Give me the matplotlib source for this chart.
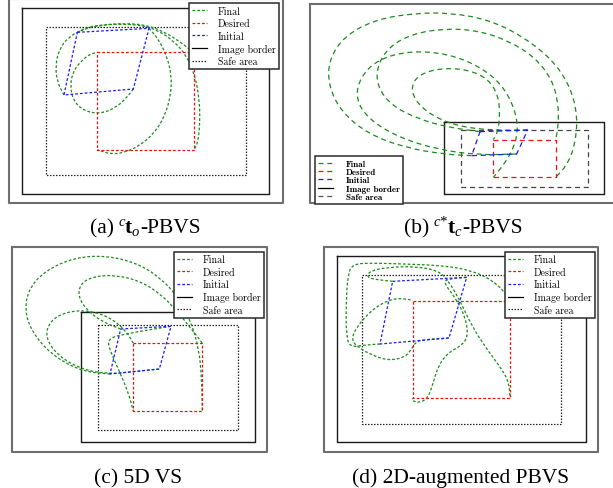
import matplotlib
matplotlib.use('Agg')
import matplotlib.pyplot as plt
from matplotlib.path import Path
from matplotlib.patches import PathPatch
from matplotlib.lines import Line2D
import numpy as np

# ---------------- data (image coordinates of each panel) ----------------
labels = ['Final', 'Desired', 'Initial', 'Image border', 'Safe area']
# caption pieces: (text, role) ; role: n = normal, sup = superscript, b = bold, sub = subscript
captions = [[('(a) ', 'n'), ('c', 'sup'), ('t', 'b'), ('o', 'sub'), ('-PBVS', 'n')],
            [('(b) ', 'n'), ('c*', 'sup'), ('t', 'b'), ('c', 'sub'), ('-PBVS', 'n')],
            [('(c) 5D VS', 'n')],
            [('(d) 2D-augmented PBVS', 'n')]]

# panel (a)
outer_a_x = [27, 848]; outer_a_y = [1, 612]
image_a_x = [65, 808]; image_a_y = [27, 585]
safe_a_x = [138, 737]; safe_a_y = [83, 528]
desired_a_x = [292, 582]; desired_a_y = [160, 452]
initial_a = [(232, 100), (447, 88), (400, 270), (192, 288)]
final_a = [
    [(232, 100), (260, 85), (300, 78), (360, 75), (420, 78), (470, 92), (520, 125), (560, 170),
     (585, 230), (598, 300), (600, 370), (594, 430), (582, 452)],
    [(447, 88), (475, 120), (500, 170), (515, 230), (512, 290), (495, 350), (465, 400), (420, 440),
     (370, 462), (330, 465), (300, 455), (292, 452)],
    [(192, 288), (172, 250), (166, 200), (178, 150), (205, 115), (245, 92), (305, 78), (375, 73),
     (440, 78), (495, 100), (535, 125), (565, 148), (582, 160)],
    [(400, 270), (385, 290), (350, 325), (300, 345), (250, 335), (220, 305), (210, 260), (220, 215),
     (245, 185), (270, 165), (292, 160)],
]
legend_a = (567, 12)

# panel (b)
outer_b_x = [15, 935]; outer_b_y = [14, 612]
image_b_x = [418, 898]; image_b_y = [370, 585]
safe_b_x = [467, 850]; safe_b_y = [392, 565]
desired_b_x = [565, 752]; desired_b_y = [422, 535]
initial_b = [(525, 398), (668, 393), (635, 465), (500, 470)]
final_b = [
    [(500, 470), (420, 466), (300, 446), (190, 405), (110, 340), (70, 260), (72, 180), (120, 110),
     (210, 62), (330, 42), (440, 42), (550, 62), (650, 110), (740, 180), (795, 260), (818, 350),
     (810, 440), (785, 500), (752, 535)],
    [(525, 398), (430, 385), (340, 360), (260, 320), (218, 265), (215, 205), (250, 145), (320, 105),
     (420, 88), (520, 95), (610, 125), (690, 175), (740, 240), (760, 310), (760, 380), (752, 422)],
    [(635, 465), (520, 468), (400, 452), (280, 415), (190, 360), (152, 300), (165, 235), (220, 180),
     (320, 155), (430, 165), (520, 200), (590, 255), (630, 330), (640, 400), (620, 460), (590, 505),
     (565, 535)],
    [(668, 393), (560, 394), (460, 382), (380, 350), (330, 305), (318, 260), (345, 225), (410, 207),
     (490, 212), (550, 240), (580, 290), (585, 350), (578, 400), (565, 422)],
]
legend_b = (30, 472)

# panel (c)
outer_c_x = [35, 802]; outer_c_y = [24, 640]
image_c_x = [242, 766]; image_c_y = [218, 610]
safe_c_x = [295, 715]; safe_c_y = [258, 573]
desired_c_x = [400, 607]; desired_c_y = [313, 517]
initial_c = [(362, 270), (513, 262), (478, 390), (330, 405)]
final_c = [
    [(330, 405), (250, 398), (170, 358), (110, 300), (75, 230), (82, 155), (135, 95), (225, 55),
     (320, 50), (410, 72), (480, 115), (535, 175), (572, 245), (597, 330), (605, 420), (607, 517)],
    [(362, 270), (310, 250), (262, 215), (235, 175), (240, 135), (280, 112), (350, 108), (425, 128),
     (485, 168), (530, 215), (570, 265), (598, 300), (607, 313)],
    [(478, 390), (400, 398), (330, 405), (250, 393), (175, 352), (135, 295), (150, 245), (200, 218),
     (265, 214), (330, 235), (378, 275), (400, 313)],
    [(513, 262), (450, 272), (380, 284), (322, 298), (330, 335), (355, 390), (385, 460), (400, 517)],
]
legend_c = (522, 38)

# panel (d)
outer_d_x = [58, 878]; outer_d_y = [24, 638]
image_d_x = [97, 842]; image_d_y = [52, 610]
safe_d_x = [172, 768]; safe_d_y = [108, 555]
desired_d_x = [323, 615]; desired_d_y = [186, 478]
initial_d = [(263, 127), (485, 115), (432, 297), (225, 315)]
final_d = [
    [(225, 315), (180, 318), (135, 325), (124, 290), (123, 200), (128, 110), (142, 75), (200, 72),
     (300, 75), (420, 80), (500, 95), (560, 122), (600, 160), (615, 186)],
    [(263, 127), (215, 122), (185, 115), (195, 95), (250, 85), (330, 82), (400, 95), (430, 125),
     (465, 185), (500, 260), (545, 330), (590, 390), (612, 430), (615, 478)],
    [(432, 297), (380, 300), (335, 305), (320, 330), (300, 355), (250, 365), (200, 348), (160, 325),
     (140, 305), (150, 270), (200, 212), (260, 178), (310, 180), (323, 186)],
    [(485, 115), (430, 120), (415, 130), (450, 175), (480, 230), (490, 290), (470, 320), (430, 340),
     (400, 380), (385, 430), (370, 475), (345, 492), (320, 485), (323, 478)],
]
legend_d = (600, 38)

# ---------------- figure ----------------
W, H = 613, 489
fig = plt.figure(figsize=(W / 100, H / 100), dpi=100)

GREEN, RED, BLUE = '#1a8c1a', '#ee1111', '#1a1aff'


def add_panel(x0, y0, w, h):
    ax = fig.add_axes([x0 / W, 1 - (y0 + h) / H, w / W, h / H])
    ax.set_xlim(0, 3 * w)
    ax.set_ylim(3 * h, 0)
    ax.axis('off')
    return ax


def rect(ax, xs, ys, **kw):
    ax.plot([xs[0], xs[1], xs[1], xs[0], xs[0]], [ys[0], ys[0], ys[1], ys[1], ys[0]],
            clip_on=False, **kw)


def quad(ax, pts, **kw):
    p = np.array(list(pts) + [pts[0]], float)
    ax.plot(p[:, 0], p[:, 1], **kw)


def smooth(ax, pts, **kw):
    pts = np.asarray(pts, float)
    mids = (pts[:-1] + pts[1:]) / 2
    verts = [pts[0], mids[0]]
    codes = [Path.MOVETO, Path.LINETO]
    for i in range(1, len(pts) - 1):
        verts += [pts[i], mids[i]]
        codes += [Path.CURVE3, Path.CURVE3]
    verts.append(pts[-1])
    codes.append(Path.LINETO)
    ax.add_patch(PathPatch(Path(verts, codes), fill=False, **kw))


def panel(ax, outer, image, safe, desired, initial, finals, leg_anchor, style, small=False):
    if style == 'dot':
        ls = (0, (2.2, 1.6))
        sls = (0, (1.2, 1.2))
    else:
        ls = (0, (4, 3))
        sls = (0, (4, 3))
    lw = 0.9
    rect(ax, outer[0], outer[1], color='#6e6e6e', lw=1.5, zorder=1)
    rect(ax, image[0], image[1], color='#1a1a1a', lw=1.0, zorder=2)
    rect(ax, safe[0], safe[1], color='#222222' if style == 'dot' else '#444444', lw=lw, ls=sls, zorder=2)
    for f in finals:
        smooth(ax, f, edgecolor=GREEN, lw=lw, ls=ls, zorder=3)
    rect(ax, desired[0], desired[1], color=RED, lw=lw, ls=ls, zorder=3)
    quad(ax, initial, color=BLUE, lw=lw, ls=ls, zorder=3)
    handles = [Line2D([], [], color=GREEN, lw=lw, ls=ls),
               Line2D([], [], color=RED, lw=lw, ls=ls),
               Line2D([], [], color=BLUE, lw=lw, ls=ls),
               Line2D([], [], color='black', lw=lw),
               Line2D([], [], color='#222222' if style == 'dot' else '#555555', lw=lw, ls=sls)]
    if small:
        prop = {'family': 'cmb10', 'size': 6.5}
        leg = ax.legend(handles, labels, loc='upper left', bbox_to_anchor=leg_anchor,
                        bbox_transform=ax.transData, borderaxespad=0, prop=prop,
                        handlelength=1.6, handletextpad=1.5, labelspacing=0.0,
                        borderpad=0.35, fancybox=False, framealpha=1)
    else:
        prop = {'family': 'cmr10', 'size': 7.2}
        leg = ax.legend(handles, labels, loc='upper left', bbox_to_anchor=leg_anchor,
                        bbox_transform=ax.transData, borderaxespad=0, prop=prop,
                        handlelength=1.5, handletextpad=1.1, labelspacing=0.3,
                        borderpad=0.3, fancybox=False, framealpha=1)
    leg.get_frame().set_edgecolor('#2a2a2a')
    leg.get_frame().set_linewidth(1.1)
    leg.set_zorder(10)


ax_a = add_panel(0, 0, 300, 210)
panel(ax_a, (outer_a_x, outer_a_y), (image_a_x, image_a_y), (safe_a_x, safe_a_y),
      (desired_a_x, desired_a_y), initial_a, final_a, legend_a, 'dot')

ax_b = add_panel(305, 0, 308, 210)
panel(ax_b, (outer_b_x, outer_b_y), (image_b_x, image_b_y), (safe_b_x, safe_b_y),
      (desired_b_x, desired_b_y), initial_b, final_b, legend_b, 'dash', small=True)

ax_c = add_panel(0, 240, 300, 215)
panel(ax_c, (outer_c_x, outer_c_y), (image_c_x, image_c_y), (safe_c_x, safe_c_y),
      (desired_c_x, desired_c_y), initial_c, final_c, legend_c, 'dot')

ax_d = add_panel(305, 240, 308, 215)
panel(ax_d, (outer_d_x, outer_d_y), (image_d_x, image_d_y), (safe_d_x, safe_d_y),
      (desired_d_x, desired_d_y), initial_d, final_d, legend_d, 'dot')

# caption typesetting: size (pt), style, weight, baseline shift (px), draw order
ROLE = {'n': (15.5, 'normal', 'normal', 0.0, 3),
        'sup': (10.5, 'italic', 'normal', 6.5, 4),
        'b': (15.5, 'normal', 'bold', 0.0, 5),
        'sub': (10.5, 'italic', 'normal', -3.0, 4)}
renderer = fig.canvas.get_renderer()
cap_pos = [(145, 233), (463, 233), (138.5, 483), (461, 483)]
for (cx, cy), parts in zip(cap_pos, captions):
    texts = []
    for s, role in parts:
        size, style, weight, dy, z = ROLE[role]
        texts.append(fig.text(0, 1 - round(cy - dy) / H, s, ha='left', va='baseline',
                              fontsize=size, fontstyle=style, fontweight=weight,
                              family='Liberation Serif', zorder=z))
    widths = [t.get_window_extent(renderer).width for t in texts]
    x = cx - sum(widths) / 2
    for t, w in zip(texts, widths):
        t.set_x(round(x) / W)
        x += w

fig.savefig('out.png', dpi=100)
